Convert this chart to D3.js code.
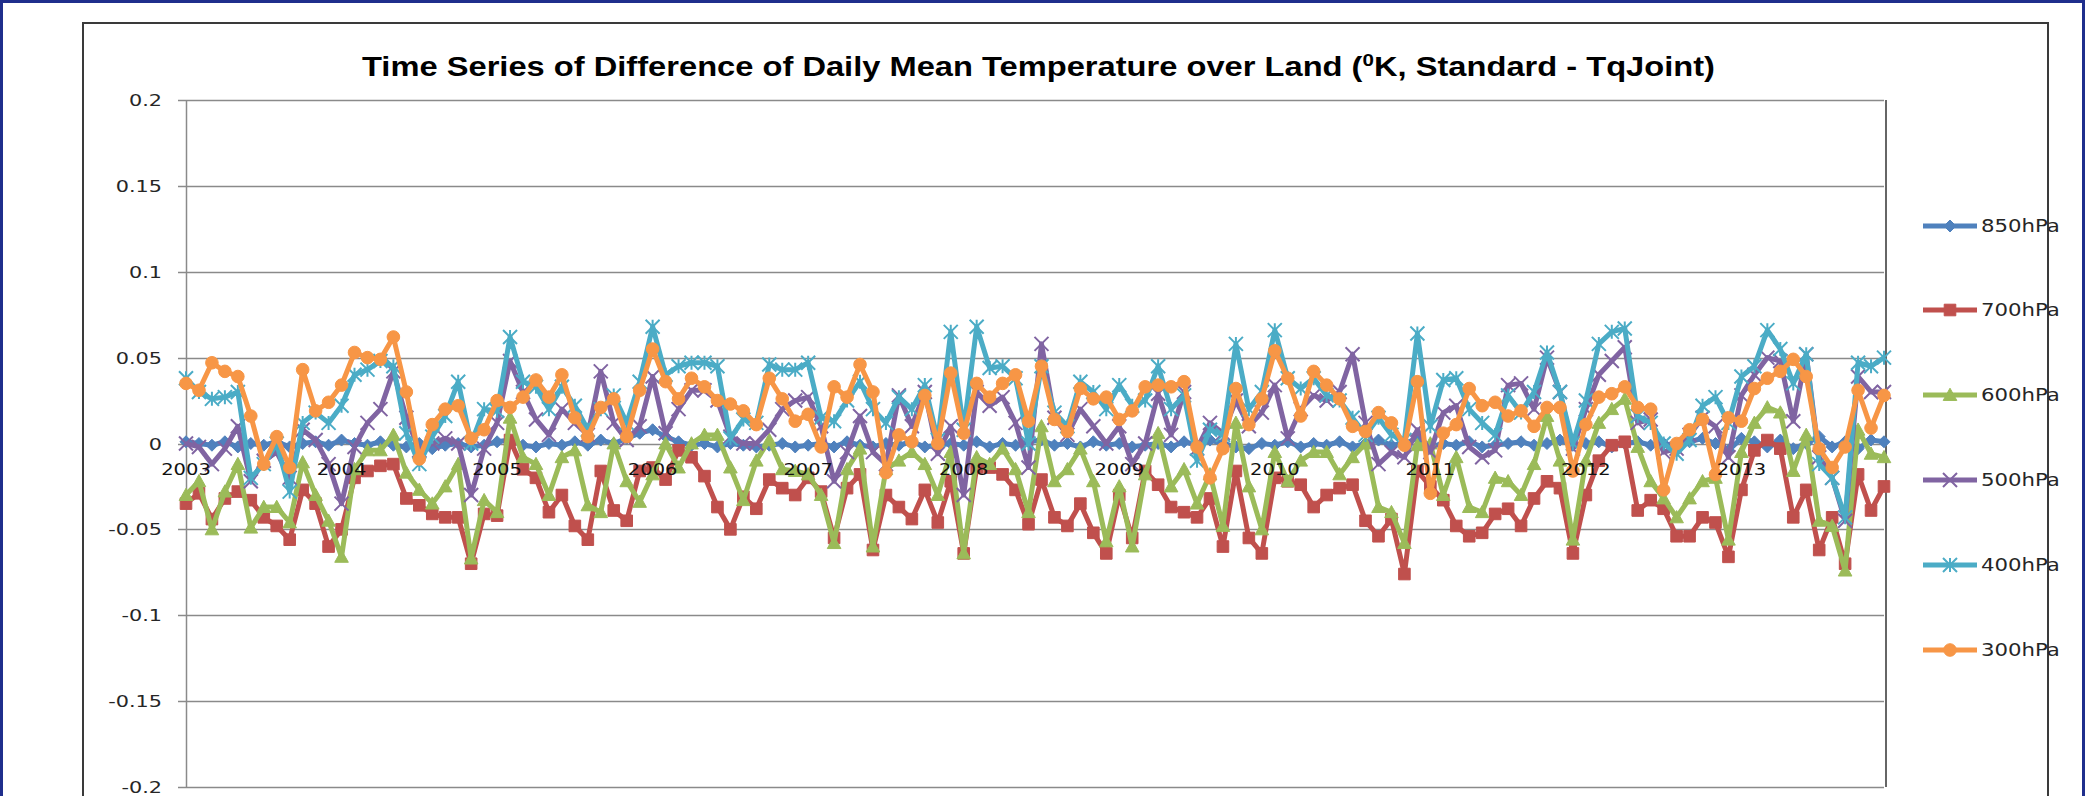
<!DOCTYPE html>
<html>
<head>
<meta charset="utf-8">
<script src="https://cdn.jsdelivr.net/npm/d3@7/dist/d3.min.js"></script>
<style>
  html, body { margin: 0; padding: 0; background: #fff; }
  svg { display: block; }
</style>
</head>
<body>
<svg id="chart" width="2085" height="796"></svg>
<script>
// ---------------- DATA ----------------
const title = "Time Series of Difference of Daily Mean Temperature  over Land (";
const titleSup = "0";
const titleEnd = "K, Standard - TqJoint)";
const years = ["2003","2004","2005","2006","2007","2008","2009","2010","2011","2012","2013"];
const yTicks = [0.2, 0.15, 0.1, 0.05, 0, -0.05, -0.1, -0.15, -0.2];
const yTickLabels = ["0.2","0.15","0.1","0.05","0","-0.05","-0.1","-0.15","-0.2"];
const seriesNames = ["850hPa","700hPa","600hPa","500hPa","400hPa","300hPa"];

const s850 = [0.001,0.000,-0.001,0.001,-0.002,0.000,-0.001,0.001,-0.002,0.000,0.001,-0.001,0.002,0.000,-0.001,
  0.001,-0.001,-0.002,0.000,-0.003,-0.001,0.000,-0.002,-0.001,0.001,0.002,-0.001,-0.002,0.000,-0.001,
  0.001,-0.001,0.002,0.000,0.003,0.006,0.008,0.004,0.001,-0.001,0.000,-0.002,0.000,-0.001,
  -0.002,-0.001,0.000,-0.002,-0.001,0.000,-0.002,0.001,-0.001,-0.002,0.000,-0.001,0.001,-0.002,-0.001,
  0.000,-0.001,0.001,-0.002,0.000,-0.001,0.001,0.002,-0.001,0.000,-0.002,0.001,-0.001,0.000,-0.002,
  -0.001,0.000,-0.002,0.001,-0.001,0.002,0.000,-0.002,-0.003,0.000,-0.001,0.001,-0.002,0.000,
  -0.001,0.001,-0.002,0.000,0.002,-0.001,0.000,0.003,-0.002,0.000,-0.001,0.001,-0.002,-0.001,0.000,
  0.001,-0.001,0.000,0.002,-0.001,0.000,0.001,-0.002,0.000,0.001,-0.001,0.000,-0.002,0.001,0.003,
  0.000,-0.004,0.003,0.001,-0.002,0.002,-0.003,0.000,0.004,-0.002,0.001,-0.003,0.002,0.001];

const s700 = [-0.035,-0.029,-0.044,-0.032,-0.028,-0.033,-0.043,-0.048,-0.056,-0.027,-0.035,-0.060,-0.050,-0.020,-0.016,
  -0.013,-0.012,-0.032,-0.036,-0.041,-0.043,-0.043,-0.070,-0.041,-0.042,0.002,-0.015,-0.020,-0.040,-0.030,
  -0.048,-0.056,-0.016,-0.039,-0.045,-0.016,-0.014,-0.021,-0.004,-0.008,-0.019,-0.037,-0.050,-0.031,
  -0.038,-0.021,-0.026,-0.030,-0.020,-0.028,-0.055,-0.026,-0.018,-0.062,-0.030,-0.037,-0.044,-0.027,-0.046,
  -0.022,-0.064,-0.014,-0.014,-0.018,-0.027,-0.047,-0.021,-0.043,-0.048,-0.035,-0.052,-0.064,-0.030,-0.055,
  -0.016,-0.024,-0.037,-0.040,-0.043,-0.032,-0.060,-0.016,-0.055,-0.064,-0.020,-0.022,-0.024,-0.037,
  -0.030,-0.026,-0.024,-0.045,-0.054,-0.044,-0.076,-0.016,-0.025,-0.033,-0.048,-0.054,-0.052,-0.041,-0.038,
  -0.048,-0.032,-0.022,-0.026,-0.064,-0.030,-0.010,-0.001,0.001,-0.039,-0.033,-0.038,-0.054,-0.054,-0.043,
  -0.046,-0.066,-0.027,-0.004,0.002,-0.003,-0.043,-0.027,-0.062,-0.043,-0.070,-0.018,-0.039,-0.025];

const s600 = [-0.030,-0.022,-0.050,-0.028,-0.012,-0.049,-0.037,-0.037,-0.046,-0.011,-0.030,-0.045,-0.066,-0.015,-0.004,
  -0.004,0.005,-0.017,-0.027,-0.035,-0.025,-0.012,-0.067,-0.033,-0.040,0.015,-0.008,-0.012,-0.030,-0.008,
  -0.004,-0.036,-0.040,0.000,-0.022,-0.034,-0.018,0.000,-0.014,0.000,0.005,0.005,-0.014,-0.033,
  -0.010,0.002,-0.015,-0.016,-0.018,-0.030,-0.058,-0.015,-0.003,-0.060,-0.015,-0.010,-0.005,-0.012,-0.030,
  -0.005,-0.064,-0.008,-0.012,-0.003,-0.015,-0.040,0.010,-0.022,-0.015,-0.003,-0.022,-0.057,-0.025,-0.060,
  -0.018,0.006,-0.025,-0.015,-0.035,-0.018,-0.048,0.012,-0.025,-0.050,-0.005,-0.022,-0.010,-0.005,
  -0.005,-0.018,-0.008,0.000,-0.037,-0.040,-0.058,-0.001,0.000,-0.030,-0.008,-0.037,-0.040,-0.020,-0.022,
  -0.030,-0.012,0.016,-0.010,-0.056,-0.010,0.012,0.020,0.026,-0.002,-0.022,-0.032,-0.043,-0.032,-0.022,
  -0.020,-0.056,-0.005,0.012,0.021,0.018,-0.016,0.005,-0.045,-0.048,-0.074,0.008,-0.006,-0.008];

const s500 = [0.000,-0.002,-0.012,-0.003,0.010,-0.022,-0.010,-0.005,-0.020,0.008,0.002,-0.012,-0.035,-0.002,0.012,
  0.020,0.042,0.015,-0.004,0.000,0.003,0.000,-0.030,-0.003,0.012,0.048,0.030,0.014,0.005,0.020,
  0.012,0.005,0.042,0.012,0.002,0.010,0.039,0.006,0.020,0.031,0.031,0.025,0.004,0.000,
  0.000,0.008,0.020,0.025,0.027,0.010,-0.022,-0.005,0.016,-0.005,-0.012,0.028,0.010,0.030,-0.006,
  0.010,-0.030,0.030,0.022,0.027,0.012,-0.014,0.058,0.015,0.005,0.020,0.010,0.000,0.010,-0.012,
  0.000,0.029,0.005,0.030,-0.003,0.012,0.006,0.025,0.010,0.018,0.034,0.003,0.020,0.028,
  0.025,0.030,0.052,0.012,-0.012,-0.005,-0.008,0.008,-0.005,0.018,0.022,-0.002,-0.008,-0.004,0.034,
  0.035,0.020,0.050,0.030,-0.003,0.020,0.040,0.048,0.056,0.012,0.014,-0.005,-0.003,0.005,0.015,
  0.010,-0.008,0.028,0.040,0.050,0.048,0.013,0.052,-0.008,-0.020,-0.045,0.039,0.030,0.030];

const s400 = [0.038,0.030,0.026,0.027,0.030,-0.020,-0.012,0.000,-0.028,0.012,0.018,0.012,0.022,0.040,0.043,
  0.048,0.045,0.006,-0.012,0.004,0.016,0.036,0.000,0.020,0.019,0.062,0.036,0.033,0.020,0.033,
  0.022,0.008,0.020,0.028,0.012,0.036,0.068,0.040,0.045,0.047,0.047,0.045,0.003,0.014,
  0.012,0.046,0.043,0.043,0.047,0.015,0.013,0.025,0.036,0.020,0.012,0.027,0.020,0.034,0.002,
  0.065,0.008,0.068,0.044,0.045,0.038,0.000,0.045,0.018,0.010,0.036,0.030,0.020,0.034,0.022,
  0.025,0.045,0.020,0.028,-0.010,0.008,0.005,0.058,0.020,0.030,0.066,0.038,0.032,0.038,
  0.028,0.025,0.015,0.005,0.015,0.005,0.002,0.064,0.010,0.037,0.038,0.020,0.012,0.005,0.028,
  0.018,0.030,0.053,0.030,0.000,0.025,0.058,0.065,0.067,0.016,0.012,0.000,-0.006,0.002,0.022,
  0.027,0.012,0.039,0.045,0.066,0.055,0.035,0.052,-0.012,-0.020,-0.043,0.047,0.045,0.050];

const s300 = [0.035,0.031,0.047,0.042,0.039,0.016,-0.012,0.004,-0.014,0.043,0.019,0.024,0.034,0.053,0.050,
  0.049,0.062,0.030,-0.009,0.011,0.020,0.022,0.003,0.008,0.025,0.021,0.027,0.037,0.027,0.040,
  0.015,0.004,0.021,0.026,0.004,0.031,0.055,0.036,0.026,0.038,0.033,0.025,0.023,0.019,
  0.011,0.038,0.026,0.013,0.017,-0.002,0.033,0.027,0.046,0.030,-0.017,0.005,0.001,0.028,0.000,
  0.041,0.006,0.035,0.027,0.035,0.040,0.013,0.045,0.014,0.007,0.032,0.026,0.027,0.014,0.019,
  0.033,0.034,0.033,0.036,-0.002,-0.020,-0.003,0.032,0.011,0.026,0.054,0.038,0.016,0.042,
  0.034,0.026,0.010,0.007,0.018,0.012,-0.001,0.036,-0.029,0.006,0.011,0.032,0.022,0.024,0.016,
  0.019,0.010,0.021,0.021,-0.016,0.011,0.027,0.029,0.033,0.021,0.020,-0.027,0.000,0.008,0.014,
  -0.018,0.015,0.013,0.032,0.038,0.042,0.049,0.039,-0.003,-0.014,-0.002,0.031,0.009,0.028];

const seriesValues = [s850, s700, s600, s500, s400, s300];
const seriesColors = ["#4F81BD","#C0504D","#9BBB59","#8064A2","#4BACC6","#F79646"];
const seriesMarkers = ["diamond","square","triangle","x","star","circle"];

// categories: one per month
const categories = [];
years.forEach(y => { for (let m = 1; m <= 12; m++) categories.push(y + "-" + String(m).padStart(2, "0")); });

// ---------------- LAYOUT ----------------
const W = 2085, H = 796;
const plot = { left: 186, right: 1884, top: 100, bottom: 787 };
const SX = 1.3; // horizontal stretch of the original picture
const svg = d3.select("#chart");

const x = d3.scalePoint().domain(categories).range([plot.left, plot.right]);
const y = d3.scaleLinear().domain([-0.2, 0.2]).range([plot.bottom, plot.top]);

function stretchedText(g, tx, ty, str, opts) {
  const t = g.append("text")
    .attr("transform", `translate(${tx},${ty}) scale(${opts.sx || SX},1)`)
    .attr("text-anchor", opts.anchor || "start")
    .attr("font-family", opts.family || "DejaVu Sans, Verdana, sans-serif")
    .attr("font-size", opts.size)
    .attr("fill", opts.fill || "#262626")
    .text(str);
  return t;
}

// outer frames
svg.append("rect").attr("x", 1.5).attr("y", 1.5).attr("width", W - 3).attr("height", H + 10)
  .attr("fill", "none").attr("stroke", "#1F2E8C").attr("stroke-width", 3);
svg.append("rect").attr("x", 83).attr("y", 23).attr("width", 1965).attr("height", H + 10)
  .attr("fill", "none").attr("stroke", "#3a3a3a").attr("stroke-width", 2);

// title
const tt = svg.append("text")
  .attr("x", 362).attr("y", 76)
  .attr("font-family", "Liberation Sans, Arial, sans-serif")
  .attr("font-weight", "bold").attr("font-size", 27).attr("fill", "#000")
  .attr("textLength", 1353).attr("lengthAdjust", "spacingAndGlyphs");
tt.append("tspan").text(title);
tt.append("tspan").attr("font-size", 17).attr("dy", -10).text(titleSup);
tt.append("tspan").attr("dy", 10).text(titleEnd);

// gridlines
const gridG = svg.append("g");
gridG.selectAll("line").data(yTicks).join("line")
  .attr("x1", plot.left - 8).attr("x2", plot.right)
  .attr("y1", d => Math.round(y(d)) + 0.5).attr("y2", d => Math.round(y(d)) + 0.5)
  .attr("stroke", "#8a8a8a").attr("stroke-width", 1.5);

// y axis line
svg.append("line").attr("x1", plot.left + 0.5).attr("x2", plot.left + 0.5)
  .attr("y1", plot.top).attr("y2", plot.bottom + 1)
  .attr("stroke", "#8a8a8a").attr("stroke-width", 1.5);
// plot right border
svg.append("line").attr("x1", plot.right + 2).attr("x2", plot.right + 2)
  .attr("y1", plot.top).attr("y2", plot.bottom)
  .attr("stroke", "#333").attr("stroke-width", 1.5);

// y labels
const ylab = svg.append("g");
yTicks.forEach((v, i) => stretchedText(ylab, 162, y(v) + 6, yTickLabels[i], { anchor: "end", size: 16 }));

// markers
function markerPath(type, s) {
  switch (type) {
    case "diamond": return `M0,${-s}L${s},0L0,${s}L${-s},0Z`;
    case "square": return `M${-s},${-s}H${s}V${s}H${-s}Z`;
    case "triangle": return `M0,${-s}L${s},${s * 0.8}L${-s},${s * 0.8}Z`;
    case "x": return `M${-s},${-s}L${s},${s}M${-s},${s}L${s},${-s}`;
    case "star": return `M${-s},${-s}L${s},${s}M${-s},${s}L${s},${-s}M0,${-s}V${s}`;
    case "circle": return `M${-s},0A${s},${s} 0 1,0 ${s},0A${s},${s} 0 1,0 ${-s},0Z`;
  }
}
const markerSize = { diamond: 6, square: 5.8, triangle: 6.8, x: 7, star: 7, circle: 6.3 };

const line = d3.line().x((d, i) => x(categories[i])).y(d => y(d));
const seriesG = svg.append("g");
seriesValues.forEach((vals, si) => {
  const g = seriesG.append("g");
  const col = seriesColors[si];
  const mk = seriesMarkers[si];
  g.append("path").datum(vals).attr("d", line)
    .attr("fill", "none").attr("stroke", col).attr("stroke-width", 5)
    .attr("stroke-linejoin", "round");
  const open = (mk === "x" || mk === "star");
  g.selectAll("path.mk").data(vals).join("path").attr("class", "mk")
    .attr("transform", (d, i) => `translate(${x(categories[i])},${y(d)})`)
    .attr("d", markerPath(mk, markerSize[mk]))
    .attr("fill", open ? "none" : col)
    .attr("stroke", col).attr("stroke-width", open ? 2 : 1);
});

// x (year) labels on top of lines
const xlab = svg.append("g");
years.forEach(yr => stretchedText(xlab, x(yr + "-01"), 475, yr, { anchor: "middle", size: 15, fill: "#111" }));

// legend
const legG = svg.append("g");
const legY = [226, 310, 395, 480, 565, 650];
seriesNames.forEach((nm, i) => {
  const ly = legY[i];
  const col = seriesColors[i];
  const mk = seriesMarkers[i];
  legG.append("line").attr("x1", 1923).attr("x2", 1977).attr("y1", ly).attr("y2", ly)
    .attr("stroke", col).attr("stroke-width", 5);
  const open = (mk === "x" || mk === "star");
  legG.append("path").attr("transform", `translate(1950,${ly})`)
    .attr("d", markerPath(mk, markerSize[mk]))
    .attr("fill", open ? "none" : col).attr("stroke", col).attr("stroke-width", open ? 2 : 1);
  stretchedText(legG, 1981, ly + 6, nm, { size: 17, sx: 1.25, fill: "#262626" });
});
</script>
</body>
</html>
